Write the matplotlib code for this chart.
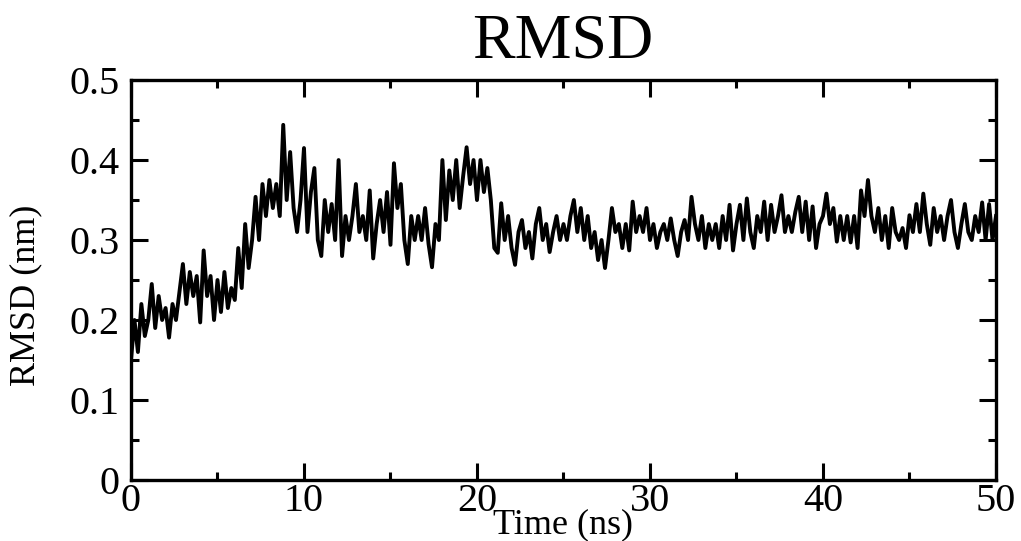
import matplotlib
matplotlib.use("Agg")
import matplotlib.pyplot as plt
import numpy as np

plt.rcParams['font.family'] = ['Liberation Serif', 'DejaVu Serif']

# RMSD trace, one value every 0.2 ns (0 .. 50 ns)
rmsd_nm = [
    0.15, 0.20, 0.16, 0.22, 0.18, 0.20, 0.245, 0.19, 0.23, 0.20,
    0.215, 0.178, 0.22, 0.20, 0.235, 0.27, 0.22, 0.26, 0.23, 0.255,
    0.197, 0.287, 0.23, 0.255, 0.20, 0.25, 0.21, 0.26, 0.215, 0.24,
    0.225, 0.29, 0.24, 0.32, 0.265, 0.30, 0.354, 0.30, 0.37, 0.33,
    0.375, 0.34, 0.37, 0.33, 0.444, 0.35, 0.41, 0.34, 0.31, 0.35,
    0.415, 0.31, 0.36, 0.39, 0.30, 0.28, 0.35, 0.31, 0.345, 0.30,
    0.40, 0.28, 0.33, 0.30, 0.33, 0.37, 0.31, 0.33, 0.30, 0.362,
    0.277, 0.32, 0.35, 0.31, 0.36, 0.294, 0.396, 0.34, 0.37, 0.30,
    0.27, 0.33, 0.30, 0.33, 0.30, 0.34, 0.295, 0.266, 0.32, 0.30,
    0.40, 0.325, 0.387, 0.35, 0.40, 0.34, 0.38, 0.416, 0.37, 0.40,
    0.35, 0.40, 0.36, 0.39, 0.35, 0.29, 0.284, 0.346, 0.30, 0.33,
    0.29, 0.269, 0.31, 0.325, 0.29, 0.31, 0.277, 0.32, 0.34, 0.30,
    0.32, 0.285, 0.31, 0.33, 0.30, 0.32, 0.30, 0.33, 0.35, 0.31,
    0.34, 0.30, 0.33, 0.29, 0.31, 0.275, 0.30, 0.265, 0.30, 0.34,
    0.31, 0.32, 0.29, 0.32, 0.287, 0.348, 0.31, 0.33, 0.31, 0.34,
    0.30, 0.32, 0.29, 0.31, 0.32, 0.30, 0.327, 0.30, 0.28, 0.31,
    0.325, 0.30, 0.354, 0.32, 0.30, 0.33, 0.29, 0.32, 0.30, 0.32,
    0.29, 0.33, 0.30, 0.344, 0.287, 0.32, 0.344, 0.30, 0.352, 0.31,
    0.29, 0.33, 0.31, 0.348, 0.30, 0.344, 0.31, 0.33, 0.356, 0.31,
    0.33, 0.31, 0.335, 0.354, 0.31, 0.348, 0.30, 0.342, 0.29, 0.32,
    0.33, 0.358, 0.32, 0.34, 0.298, 0.33, 0.30, 0.33, 0.297, 0.33,
    0.29, 0.362, 0.33, 0.375, 0.33, 0.31, 0.34, 0.30, 0.33, 0.29,
    0.34, 0.31, 0.30, 0.315, 0.29, 0.331, 0.31, 0.345, 0.31, 0.358,
    0.32, 0.294, 0.34, 0.31, 0.33, 0.30, 0.33, 0.35, 0.31, 0.29,
    0.32, 0.345, 0.31, 0.30, 0.33, 0.31, 0.347, 0.30, 0.345, 0.30,
    0.33,
]
time_step_ns = 0.2
time_ns = np.arange(len(rmsd_nm)) * time_step_ns

x_ticks = [0, 10, 20, 30, 40, 50]
y_ticks = [0, 0.1, 0.2, 0.3, 0.4, 0.5]
y_tick_labels = ['0', '0.1', '0.2', '0.3', '0.4', '0.5']

fig = plt.figure(figsize=(10.21, 5.41), dpi=100)
ax = fig.add_axes([0.1283, 0.1128, 0.8472, 0.7392])

ax.plot(time_ns, rmsd_nm, color='black', linewidth=2.8)

ax.set_xlim(0, 50)
ax.set_ylim(0, 0.5)
ax.set_xticks(x_ticks)
ax.set_xticks(np.arange(0, 51, 5), minor=True)
ax.set_yticks(y_ticks)
ax.set_yticklabels(y_tick_labels)
ax.set_yticks(np.arange(0, 0.51, 0.05), minor=True)

ax.tick_params(which='both', direction='in', top=True, right=True, width=2.2)
ax.tick_params(which='major', length=12, labelsize=29)
ax.tick_params(axis='x', which='major', pad=2)
ax.tick_params(axis='y', which='major', pad=8)
ax.tick_params(which='minor', length=6)
for s in ax.spines.values():
    s.set_linewidth(2.4)

ax.set_xlabel('Time (ns)', fontsize=26)
ax.xaxis.set_label_coords(0.5, -0.07)
ax.set_ylabel('RMSD (nm)', fontsize=26)
ax.yaxis.set_label_coords(-0.103, 0.4625)
fig.text(0.5514, 0.8928, 'RMSD', fontsize=46, ha='center', va='baseline')

fig.savefig('out.png', dpi=100)
